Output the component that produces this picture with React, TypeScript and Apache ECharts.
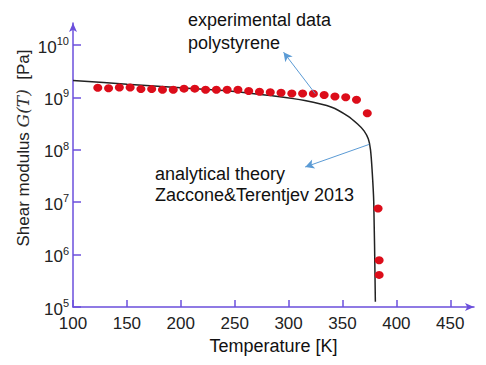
import React, { useEffect, useRef } from "react";
import * as echarts from "echarts";

const expT = [123, 133, 143, 153, 163, 173, 183, 193, 203, 213, 223, 233, 243, 253, 263, 273, 283, 293, 303, 313, 323, 333, 343, 353, 363, 373, 383, 384, 384];
const expG = [1.53e9, 1.49e9, 1.55e9, 1.55e9, 1.44e9, 1.44e9, 1.4e9, 1.4e9, 1.47e9, 1.47e9, 1.4e9, 1.4e9, 1.4e9, 1.4e9, 1.32e9, 1.28e9, 1.26e9, 1.23e9, 1.19e9, 1.19e9, 1.18e9, 1.11e9, 1.04e9, 1.01e9, 9.0e8, 5.0e8, 7.6e6, 7.8e5, 4.1e5];

const theoryT = [100, 150, 200, 250, 285, 315, 340, 355, 364, 370, 374, 376, 377.5, 379, 380.5];
const theoryG = [2.11e9, 1.79e9, 1.53e9, 1.3e9, 1.07e9, 8.7e8, 6.5e8, 4.4e8, 3.1e8, 2.3e8, 1.6e8, 1.0e8, 4.0e7, 1.0e7, 1.26e5];

const xTicks = [100, 150, 200, 250, 300, 350, 400, 450];
const yTicks = [1e5, 1e6, 1e7, 1e8, 1e9, 1e10];

const arrowExp = [[324.7, 1.18e9], [295.3, 7.3e9]];
const arrowTheory = [[374.8, 1.27e8], [315.4, 4.7e7]];

const AXIS = "#6b4fdc";
const FONT = "Liberation Sans, Arial, sans-serif";

export default function App() {
  const ref = useRef<HTMLDivElement>(null);
  useEffect(() => {
    const chart = echarts.init(ref.current!, null, { renderer: "svg" });
    const arrowLine = (pts: number[][]) => ({
      silent: true,
      symbol: ["none", "arrow"],
      symbolSize: [7, 9],
      label: { show: false },
      lineStyle: { color: "#5b9bd5", width: 1, type: "solid" },
      data: [[{ coord: pts[0] }, { coord: pts[1] }]],
    });
    chart.setOption({
      animation: false,
      backgroundColor: "#fff",
      grid: { left: 73, right: 12, top: 23, bottom: 58 },
      xAxis: {
        type: "value",
        min: 100,
        max: 472,
        interval: 50,
        name: "Temperature [K]",
        nameLocation: "middle",
        nameGap: 30,
        nameTextStyle: { fontSize: 18, color: "#111", fontFamily: FONT },
        axisLine: { show: true, lineStyle: { color: AXIS, width: 1.5 }, symbol: ["none", "arrow"], symbolSize: [6, 9] },
        axisTick: { show: true, inside: true, length: 7, lineStyle: { color: AXIS, width: 1.5 }, customValues: xTicks },
        axisLabel: { fontSize: 17, color: "#222", fontFamily: FONT, margin: 8, customValues: xTicks },
        splitLine: { show: false },
      },
      yAxis: {
        type: "log",
        logBase: 10,
        min: 1e5,
        max: 2.63e10,
        name: "",
        axisLine: { show: true, lineStyle: { color: AXIS, width: 1.5 }, symbol: ["none", "arrow"], symbolSize: [6, 9] },
        axisTick: { show: true, inside: true, length: 8, lineStyle: { color: AXIS, width: 1.5 }, customValues: yTicks },
        axisLabel: {
          margin: 4,
          customValues: yTicks,
          formatter: (v: number) => `{b|10}{s|${Math.round(Math.log10(v))}}`,
          rich: {
            b: { fontSize: 17, color: "#222", fontFamily: FONT, padding: [4, 0, 0, 0] },
            s: { fontSize: 11, color: "#222", fontFamily: FONT, padding: [0, 0, 8, 0] },
          },
        },
        splitLine: { show: false },
      },
      series: [
        {
          type: "line",
          data: theoryT.map((t, i) => [t, theoryG[i]]),
          smooth: 0.3,
          showSymbol: false,
          symbol: "none",
          lineStyle: { color: "#222", width: 1.5 },
          z: 2,
          markLine: arrowLine(arrowTheory),
        },
        {
          type: "scatter",
          data: expT.map((t, i) => [t, expG[i]]),
          symbol: "circle",
          symbolSize: [9, 8],
          itemStyle: { color: "#dc0d1a", opacity: 1 },
          z: 3,
          markLine: arrowLine(arrowExp),
        },
      ],
      graphic: [
        {
          type: "text",
          x: 23,
          y: 148,
          rotation: Math.PI / 2,
          style: {
            text: "{n|Shear modulus }{i|G(T)}{n|  [Pa]}",
            align: "center",
            verticalAlign: "middle",
            rich: {
              n: { fontSize: 17, fill: "#222", fontFamily: FONT },
              i: { fontSize: 17, fill: "#333", fontFamily: "DejaVu Serif, serif", fontStyle: "italic" },
            },
          },
        },
        { type: "text", x: 188, y: 8, style: { text: "experimental data\npolystyrene", fontSize: 18, lineHeight: 23, fill: "#111", fontFamily: FONT } },
        { type: "text", x: 155, y: 163, style: { text: "analytical theory\nZaccone&Terentjev 2013", fontSize: 18, lineHeight: 21, fill: "#111", fontFamily: FONT } },
      ],
    });
    return () => chart.dispose();
  }, []);
  return <div ref={ref} style={{ width: 486, height: 365, position: "absolute", left: 0, top: 0 }} />;
}
